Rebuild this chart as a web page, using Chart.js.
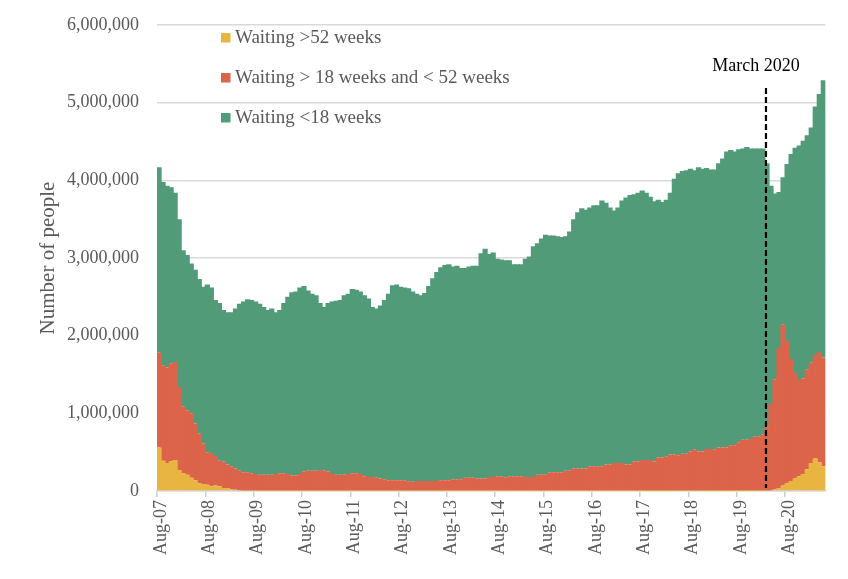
<!DOCTYPE html>
<html>
<head>
<meta charset="utf-8">
<script src="https://cdn.jsdelivr.net/npm/chart.js@4.4.0/dist/chart.umd.min.js"></script>
<style>
    html, body { margin: 0; padding: 0; background: #ffffff; }
    #wrap { width: 848px; height: 579px; }
</style>
</head>
<body>
<div id="wrap"><canvas id="waitChart" width="848" height="579"></canvas></div>
<script>
// Monthly waiting list, thousands of people, Aug-07 .. May-21
var totalWaiting = [
    4170, 3980, 3930, 3910, 3840, 3500, 3100, 3040, 2930, 2850, 2730, 2630,
    2660, 2620, 2460, 2420, 2330, 2300, 2300, 2350, 2410, 2440, 2470, 2460,
    2440, 2410, 2370, 2330, 2350, 2300, 2330, 2420, 2500, 2560, 2570, 2620,
    2640, 2580, 2540, 2520, 2420, 2370, 2420, 2440, 2450, 2460, 2520, 2540,
    2600, 2590, 2570, 2520, 2480, 2370, 2350, 2390, 2460, 2540, 2650, 2660,
    2630, 2620, 2610, 2570, 2540, 2520, 2550, 2640, 2740, 2820, 2880, 2910,
    2920, 2890, 2900, 2870, 2870, 2890, 2900, 2900, 3060, 3120, 3050, 3070,
    2990, 2980, 2970, 2970, 2920, 2920, 2920, 2990, 3020, 3150, 3190, 3250,
    3300, 3290, 3290, 3280, 3270, 3280, 3340, 3500, 3590, 3640, 3620, 3650,
    3680, 3680, 3740, 3710, 3650, 3610, 3650, 3740, 3780, 3810, 3820, 3840,
    3870, 3840, 3790, 3730, 3750, 3720, 3750, 3840, 4020, 4090, 4120, 4130,
    4150, 4130, 4170, 4150, 4160, 4140, 4140, 4220, 4280, 4370, 4390, 4370,
    4400, 4410, 4430, 4410, 4410, 4410, 4410, 4220, 3930, 3830, 3850, 4040,
    4210, 4340, 4420, 4450, 4510, 4580, 4680, 4950, 5110, 5290
];
var over18Weeks = [
    1780, 1620, 1590, 1640, 1660, 1340, 1090, 1040, 1000, 870, 740, 610,
    500, 490, 450, 390, 380, 340, 320, 290, 260, 240, 240, 230,
    220, 210, 210, 210, 210, 220, 230, 230, 220, 200, 200, 220,
    250, 260, 260, 260, 270, 260, 250, 220, 210, 210, 210, 220,
    230, 230, 220, 190, 180, 180, 170, 160, 150, 140, 140, 140,
    140, 140, 120, 120, 130, 130, 130, 130, 130, 130, 140, 140,
    140, 150, 150, 150, 170, 170, 170, 160, 160, 160, 180, 180,
    190, 190, 170, 190, 190, 190, 190, 180, 180, 180, 210, 210,
    210, 240, 240, 240, 240, 260, 260, 290, 290, 290, 290, 320,
    320, 320, 320, 340, 340, 360, 360, 360, 340, 340, 380, 380,
    400, 400, 400, 380, 430, 430, 440, 470, 470, 460, 480, 480,
    510, 530, 510, 510, 540, 540, 530, 560, 560, 560, 590, 590,
    620, 660, 660, 670, 700, 700, 730, 830, 1120, 1440, 1840, 2140,
    1930, 1700, 1520, 1430, 1450, 1560, 1650, 1750, 1790, 1720
];
var over52Weeks = [
    560, 390, 360, 380, 400, 270, 230, 210, 170, 140, 100, 90,
    80, 60, 70, 60, 40, 40, 20, 15, 10, 8, 6, 5,
    5, 4, 4, 4, 4, 3, 3, 3, 3, 3, 3, 3,
    3, 3, 3, 3, 3, 3, 2, 2, 2, 2, 2, 2,
    2, 2, 2, 2, 2, 2, 2, 2, 2, 2, 2, 2,
    2, 2, 2, 2, 2, 2, 2, 2, 2, 2, 2, 2,
    1, 1, 1, 1, 1, 1, 1, 1, 1, 1, 1, 1,
    1, 1, 1, 1, 1, 1, 1, 1, 1, 1, 1, 1,
    1, 1, 1, 1, 1, 1, 1, 1, 1, 1, 1, 1,
    1, 1, 1, 1, 1, 1, 1, 1, 1, 1, 1, 1,
    1, 1, 1, 1, 1, 1, 1, 1, 1, 1, 1, 1,
    1, 1, 1, 1, 1, 1, 1, 1, 1, 1, 1, 1,
    1, 1, 1, 1, 1, 1, 1, 2, 10, 20, 40, 70,
    100, 130, 160, 190, 220, 280, 360, 420, 370, 320
];
var tickLabels = ['Aug-07', 'Aug-08', 'Aug-09', 'Aug-10', 'Aug-11', 'Aug-12', 'Aug-13',
                  'Aug-14', 'Aug-15', 'Aug-16', 'Aug-17', 'Aug-18', 'Aug-19', 'Aug-20'];
var seriesNames = ['Waiting >52 weeks', 'Waiting > 18 weeks and < 52 weeks', 'Waiting <18 weeks'];
var seriesColors = ['#E8B640', '#DC644A', '#529B79'];
var markerMonth = 'Mar-20';

// month categories Aug-07 onwards
var monthNames = ['Jan', 'Feb', 'Mar', 'Apr', 'May', 'Jun', 'Jul', 'Aug', 'Sep', 'Oct', 'Nov', 'Dec'];
var months = [];
for (var i = 0; i < totalWaiting.length; i++) {
    var yr = 7 + Math.floor((7 + i) / 12);
    months.push(monthNames[(7 + i) % 12] + '-' + (yr < 10 ? '0' + yr : yr));
}

var over52Data = over52Weeks.map(function(v) { return v * 1000; });
var midData = over18Weeks.map(function(v, i) { return (v - over52Weeks[i]) * 1000; });
var under18Data = totalWaiting.map(function(v, i) { return (v - over18Weeks[i]) * 1000; });

var serif = '"Liberation Serif", "Times New Roman", serif';
var grey = '#595959';

// legend stacked vertically inside the plot
var sideLegend = {
    id: 'sideLegend',
    afterDraw: function(chart) {
        var ctx = chart.ctx;
        ctx.save();
        ctx.font = '19px ' + serif;
        ctx.textBaseline = 'middle';
        for (var k = 0; k < seriesNames.length; k++) {
            var cy = 37.5 + k * 40;
            ctx.fillStyle = seriesColors[k];
            ctx.fillRect(221, cy - 4.5, 9.5, 9.5);
            ctx.fillStyle = grey;
            ctx.fillText(seriesNames[k], 235, cy + 1);
        }
        ctx.restore();
    }
};

// dashed marker at March 2020
var marchLine = {
    id: 'marchLine',
    afterDatasetsDraw: function(chart) {
        var ctx = chart.ctx, xs = chart.scales.x, ys = chart.scales.y;
        var px = xs.getPixelForValue(months.indexOf(markerMonth)) - 1;
        ctx.save();
        ctx.strokeStyle = '#000000';
        ctx.lineWidth = 2.2;
        ctx.setLineDash([6, 3]);
        ctx.beginPath();
        ctx.moveTo(px, ys.getPixelForValue(5190000));
        ctx.lineTo(px, ys.getPixelForValue(0) - 3);
        ctx.stroke();
        ctx.setLineDash([]);
        ctx.fillStyle = '#000000';
        ctx.font = '18px ' + serif;
        ctx.textAlign = 'center';
        ctx.textBaseline = 'middle';
        ctx.fillText('March 2020', px - 10, ys.getPixelForValue(5470000));
        ctx.restore();
    }
};

var ctx = document.getElementById('waitChart').getContext('2d');
new Chart(ctx, {
    type: 'bar',
    data: {
        labels: months,
        datasets: [{
            label: seriesNames[0],
            data: over52Data,
            backgroundColor: seriesColors[0]
        }, {
            label: seriesNames[1],
            data: midData,
            backgroundColor: seriesColors[1]
        }, {
            label: seriesNames[2],
            data: under18Data,
            backgroundColor: seriesColors[2]
        }]
    },
    options: {
        responsive: false,
        animation: false,
        layout: {
            padding: { top: 25, right: 21, bottom: 0, left: 0 }
        },
        datasets: {
            bar: {
                barPercentage: 1.3,   // overlap of 1px+ so no antialias seams
                categoryPercentage: 1,
                borderWidth: 0
            }
        },
        plugins: {
            legend: { display: false },
            tooltip: { enabled: false }
        },
        scales: {
            x: {
                stacked: true,
                afterFit: function(scale) { scale.height = 88; },
                border: { color: '#D9D9D9', width: 1.5 },
                grid: {
                    offset: true,
                    drawOnChartArea: false,
                    tickLength: 6,
                    color: function(c) {
                        return tickLabels.indexOf(months[c.index]) >= 0 ? '#D0D0D0' : 'rgba(0,0,0,0)';
                    },
                    lineWidth: 1.5
                },
                ticks: {
                    autoSkip: false,
                    minRotation: 90,
                    maxRotation: 90,
                    padding: 3,
                    labelOffset: 2,
                    color: grey,
                    font: { family: serif, size: 18 },
                    callback: function(val, idx) {
                        return tickLabels.indexOf(months[idx]) >= 0 ? months[idx] : '';
                    }
                }
            },
            y: {
                stacked: true,
                min: 0,
                max: 6000000,
                afterFit: function(scale) { scale.width = 157; },
                border: { display: false },
                // invisible tick marks give the label gap without padding the top
                grid: { color: '#D9D9D9', lineWidth: 1.5, tickLength: 18, tickColor: 'rgba(0,0,0,0)' },
                ticks: {
                    stepSize: 1000000,
                    padding: 0,
                    color: grey,
                    font: { family: serif, size: 18 },
                    callback: function(v) { return v.toLocaleString('en-US'); }
                },
                title: {
                    display: true,
                    text: 'Number of people',
                    color: grey,
                    font: { family: serif, size: 21 },
                    padding: { top: 36, bottom: 0 }
                }
            }
        }
    },
    plugins: [marchLine, sideLegend]
});
</script>
</body>
</html>
